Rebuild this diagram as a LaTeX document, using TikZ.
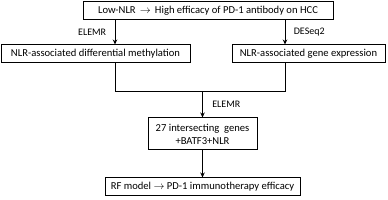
\documentclass[tikz,border=0pt]{standalone}
\usepackage{fontspec}
\setmainfont{Carlito}
\usetikzlibrary{arrows.meta}
\begin{document}
\begin{tikzpicture}[x=1pt,y=1pt,
  box/.style={draw,line width=1pt,inner sep=0pt,font=\fontsize{10.6}{12}\selectfont},
  conn/.style={line width=1pt},
  arr/.style={line width=1pt,-{Stealth[length=5pt,width=4.5pt]}},
  lbl/.style={font=\fontsize{10}{12}\selectfont}]
\useasboundingbox (0,0) rectangle (388,200);
\node[box,minimum width=250,minimum height=18] (top) at (208,189) {Low-NLR \,$\rightarrow$\, High efficacy of PD-1 antibody on HCC};
\node[box,minimum width=189,minimum height=18] (left) at (95.5,146) {NLR-associated differential methylation};
\node[box,minimum width=153,minimum height=18] (right) at (308.5,146) {NLR-associated gene expression};
\node[box,minimum width=109,minimum height=32,align=center] (mid) at (202.5,66) {27 intersecting\ \ genes\\[1pt]+BATF3+NLR};
\node[box,minimum width=195,minimum height=18] (bot) at (202.5,13) {RF model $\rightarrow$ PD-1 immunotherapy efficacy};
\coordinate (jl) at (115,108);
\coordinate (jr) at (285,108);
\coordinate (jm) at (202.5,108);
\draw[arr] (top.south -| jl) -- (left.north -| jl) node[lbl,midway,left=5pt] {ELEMR};
\draw[arr] (top.south -| jr) -- (right.north -| jr) node[lbl,midway,right=5pt] {DESeq2};
\draw[conn] (left.south -| jl) -- (jl) -- (jr) -- (right.south -| jr);
\draw[arr] (jm) -- (mid.north) node[lbl,midway,right=6pt] {ELEMR};
\draw[arr] (mid.south) -- (bot.north);
\end{tikzpicture}
\end{document}
